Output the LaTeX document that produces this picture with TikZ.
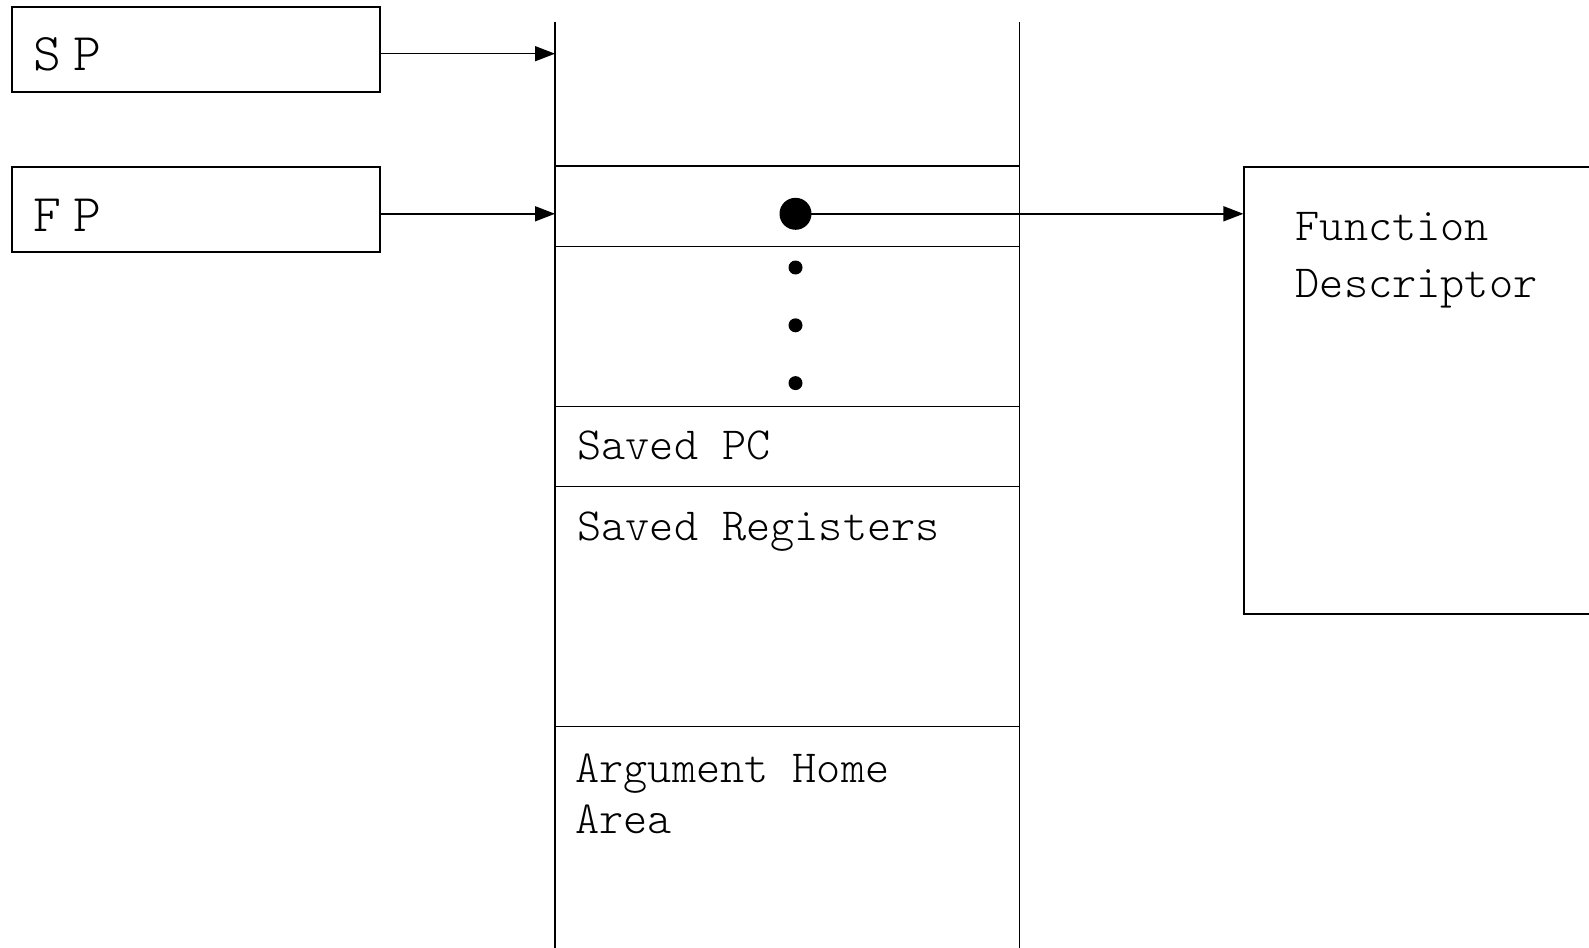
\documentclass[tikz,border=0pt]{standalone}
\usepackage{fontspec}
\usetikzlibrary{arrows.meta}
\newfontfamily\monotxt{lmmonolt10-regular.otf}
\newfontfamily\monowide[LetterSpace=22]{lmmonolt10-regular.otf}
\begin{document}
\begin{tikzpicture}[x=1pt,y=-1pt,line width=1.6pt,
  regbox/.style={draw,rectangle,minimum width=368pt,minimum height=85pt,anchor=north west,inner sep=0pt},
  reglabel/.style={anchor=base west,inner sep=0pt,font=\monowide\fontsize{53pt}{60pt}\selectfont},
  celllabel/.style={anchor=base west,inner sep=0pt,font=\monotxt\fontsize{46pt}{51pt}\selectfont},
  ptr/.style={-{Triangle[length=20pt,width=15pt]}},
  bigdot/.style={circle,fill=black,minimum size=32pt,inner sep=0pt},
  smalldot/.style={circle,fill=black,minimum size=14pt,inner sep=0pt}]
\useasboundingbox (0,0) rectangle (1589,947);
% register boxes
\node[regbox] (sp) at (11,6) {};
\node[regbox] (fp) at (11,166) {};
\node[reglabel] (sptxt) at (33,71) {SP};
\node[reglabel] (fptxt) at (33,231) {FP};
% stack
\coordinate (stl) at (555,22);
\coordinate (str) at (1019.5,22);
\draw (stl) -- (555,952);
\draw (str) -- (1019.5,952);
\foreach \yy/\nm in {166/h1,246.3/h2,406.4/h3,486.4/h4,726.6/h5}{
  \draw (555,\yy) coordinate (\nm l) -- (1019.5,\yy) coordinate (\nm r);
}
\coordinate (sptgt) at (555,53.7);
\coordinate (fptgt) at (555,213.8);
\draw[ptr] (sp.east |- sptgt) -- (sptgt);
\draw[ptr] (fp.east |- fptgt) -- (fptgt);
% pointer dot and dots
\node[bigdot] (pdot) at (795.5,213.8) {};
\node[smalldot] (d1) at (795.5,267.5) {};
\node[smalldot] (d2) at (795.5,325.3) {};
\node[smalldot] (d3) at (795.5,383.1) {};
% function descriptor
\node[draw,rectangle,anchor=north west,minimum width=380pt,minimum height=447pt,inner sep=0pt] (fd) at (1243.4,166) {};
\draw[ptr] (pdot.center) -- (fd.west |- pdot);
% labels
\node[celllabel] (fdtxt1) at (1295,240) {Function};
\node[celllabel] (fdtxt2) at (1295,297) {Descriptor};
\node[celllabel] (pc) at (576.6,459) {Saved PC};
\node[celllabel] (regs) at (576.6,540) {Saved Registers};
\node[celllabel] (arg1) at (574.6,782) {Argument Home};
\node[celllabel] (arg2) at (574.6,833) {Area};
\end{tikzpicture}
\end{document}
